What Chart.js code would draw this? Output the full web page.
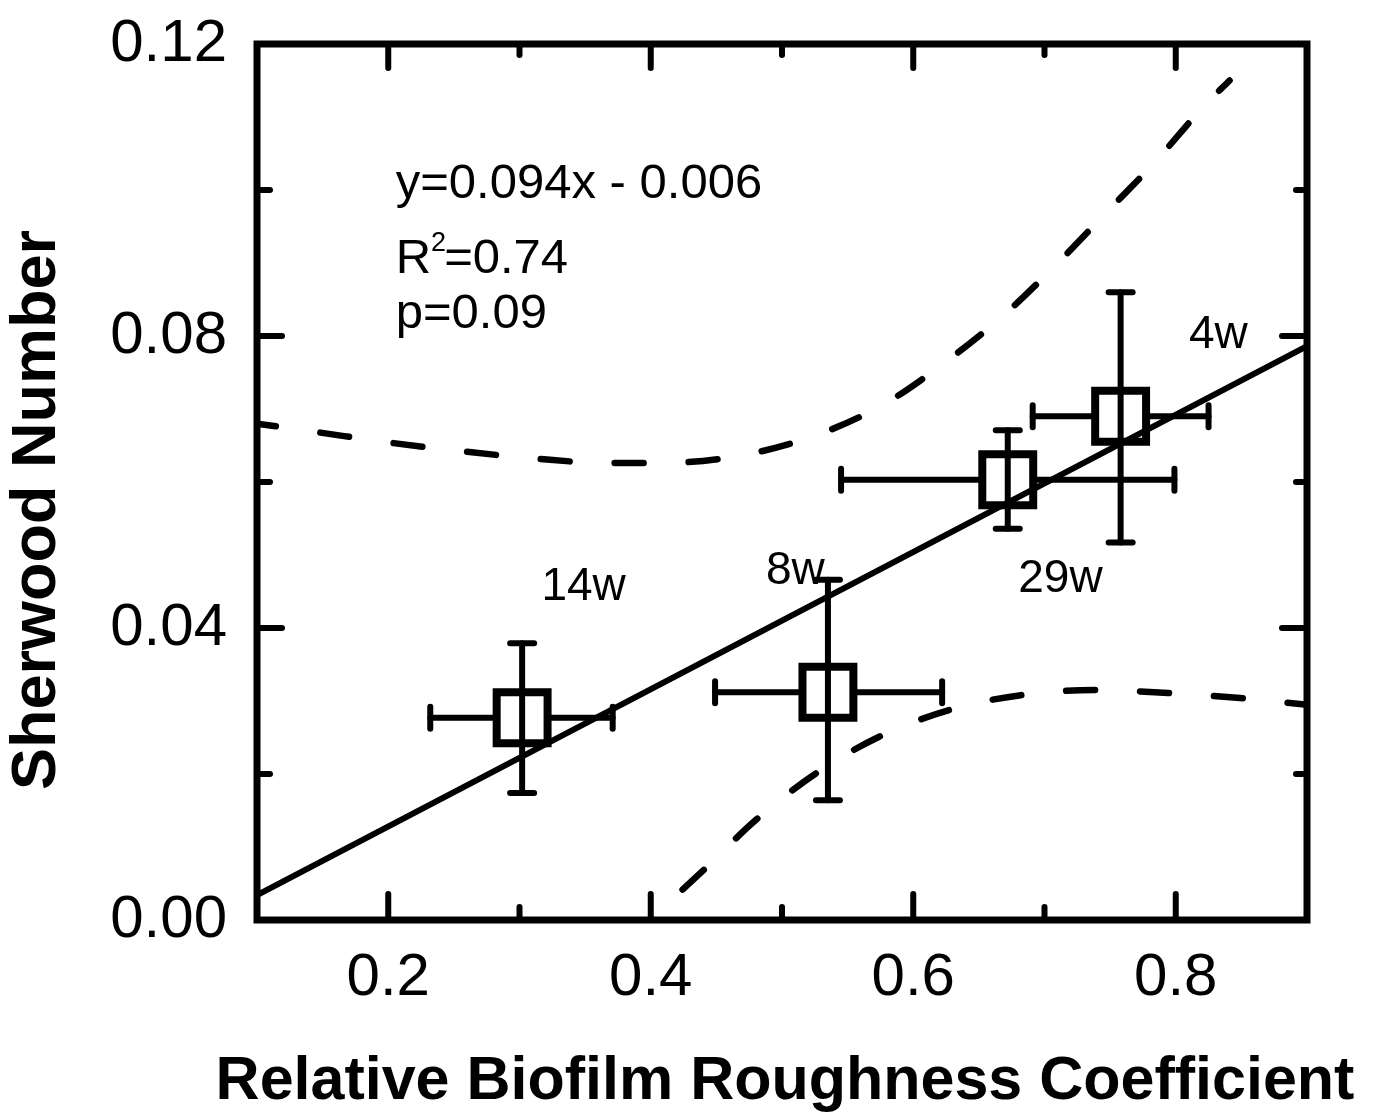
<!DOCTYPE html>
<html>
<head>
<meta charset="utf-8">
<script src="https://cdn.jsdelivr.net/npm/chart.js@4.4.1/dist/chart.umd.min.js"></script>
<style>
  html, body { margin: 0; padding: 0; background: #fff; }
  #wrap { width: 1378px; height: 1119px; }
</style>
</head>
<body>
<div id="wrap"><canvas id="sherwoodChart" width="1378" height="1119"></canvas></div>
<script>
// measured points (biofilm age labels)
const weeks = ["14w", "8w", "29w", "4w"];
const roughness = [0.302, 0.535, 0.672, 0.758];
const roughnessLow = [0.232, 0.449, 0.545, 0.691];
const roughnessHigh = [0.371, 0.622, 0.799, 0.825];
const sherwood = [0.0277, 0.0312, 0.0603, 0.0690];
const sherwoodLow = [0.0174, 0.0164, 0.0536, 0.0517];
const sherwoodHigh = [0.0379, 0.0466, 0.0671, 0.0860];

// regression line and 95% bands
const fitX = [0.1, 0.9];
const fitY = [0.0034, 0.0786];
const upperX = [0.100, 0.147, 0.201, 0.257, 0.313, 0.367, 0.423, 0.479, 0.532, 0.580, 0.625, 0.668, 0.708, 0.746, 0.785, 0.822, 0.841];
const upperY = [0.0680, 0.0668, 0.0654, 0.0642, 0.0632, 0.0626, 0.0627, 0.0640, 0.0668, 0.0709, 0.0765, 0.0827, 0.0896, 0.0967, 0.1040, 0.1116, 0.1150];
const lowerX = [0.399, 0.440, 0.480, 0.526, 0.574, 0.628, 0.682, 0.738, 0.794, 0.849, 0.900];
const lowerY = [0.0000, 0.0068, 0.0137, 0.0201, 0.0251, 0.0288, 0.0308, 0.0315, 0.0311, 0.0304, 0.0295];

// axis ticks
const xMajorTicks = [0.2, 0.4, 0.6, 0.8];
const xTickLabels = ["0.2", "0.4", "0.6", "0.8"];
const xMinorTicks = [0.3, 0.5, 0.7];
const yMajorTicks = [0, 0.04, 0.08, 0.12];
const yTickLabels = ["0.00", "0.04", "0.08", "0.12"];
const yMinorTicks = [0.02, 0.06, 0.10];

const FONT = "'Liberation Sans', Arial, sans-serif";
const xTitle = "Relative Biofilm Roughness Coefficient";
const yTitle = "Sherwood Number";

// text placed on the plot (anchor = left end of baseline, in data units)
const notes = [
  { text: "y=0.094x - 0.006", x: 0.2057, y: 0.0989, size: 49 },
  { text: "R", sup: "2", rest: "=0.74", x: 0.2057, y: 0.0886, size: 49 },
  { text: "p=0.09", x: 0.2057, y: 0.0811, size: 49 },
  { text: "14w", x: 0.3167, y: 0.0439, size: 46 },
  { text: "8w", x: 0.4878, y: 0.0460, size: 46 },
  { text: "29w", x: 0.6800, y: 0.0450, size: 46 },
  { text: "4w", x: 0.8100, y: 0.0784, size: 46 }
];

const toXY = (xs, ys) => xs.map((v, i) => ({ x: v, y: ys[i] }));

const errorBars = {
  id: "errorBars",
  afterDatasetsDraw(chart) {
    const { ctx, scales: { x, y } } = chart;
    ctx.save();
    ctx.strokeStyle = "#000";
    ctx.lineWidth = 6;
    ctx.lineCap = "round";
    const seg = (x1, y1, x2, y2) => { ctx.beginPath(); ctx.moveTo(x1, y1); ctx.lineTo(x2, y2); ctx.stroke(); };
    roughness.forEach((rx, i) => {
      const px = x.getPixelForValue(rx);
      const py = y.getPixelForValue(sherwood[i]);
      const yl = y.getPixelForValue(sherwoodLow[i]);
      const yh = y.getPixelForValue(sherwoodHigh[i]);
      const xl = x.getPixelForValue(roughnessLow[i]);
      const xh = x.getPixelForValue(roughnessHigh[i]);
      const half = 26;
      seg(px, yh, px, yl);
      seg(px - 12, yh, px + 12, yh);
      seg(px - 12, yl, px + 12, yl);
      seg(xl, py, px - half, py);
      seg(px + half, py, xh, py);
      seg(xl, py - 11, xl, py + 11);
      seg(xh, py - 11, xh, py + 11);
    });
    ctx.restore();
  }
};

const frame = {
  id: "frame",
  afterDraw(chart) {
    const { ctx, chartArea: a, scales: { x, y } } = chart;
    ctx.save();
    ctx.strokeStyle = "#000";
    ctx.lineWidth = 6;
    ctx.lineCap = "round";
    const seg = (x1, y1, x2, y2) => { ctx.beginPath(); ctx.moveTo(x1, y1); ctx.lineTo(x2, y2); ctx.stroke(); };
    xMajorTicks.forEach(v => {
      const p = x.getPixelForValue(v);
      seg(p, a.bottom, p, a.bottom - 26);
      seg(p, a.top, p, a.top + 24);
    });
    xMinorTicks.forEach(v => {
      const p = x.getPixelForValue(v);
      seg(p, a.bottom, p, a.bottom - 13);
      seg(p, a.top, p, a.top + 11);
    });
    yMajorTicks.forEach(v => {
      const p = y.getPixelForValue(v);
      seg(a.left, p, a.left + 25, p);
      seg(a.right, p, a.right - 25, p);
    });
    yMinorTicks.forEach(v => {
      const p = y.getPixelForValue(v);
      seg(a.left, p, a.left + 13, p);
      seg(a.right, p, a.right - 11, p);
    });
    ctx.lineWidth = 7;
    ctx.lineCap = "butt";
    ctx.lineJoin = "miter";
    ctx.strokeRect(a.left, a.top, a.right - a.left, a.bottom - a.top);

    // text notes
    ctx.fillStyle = "#000";
    ctx.textBaseline = "alphabetic";
    ctx.textAlign = "left";
    notes.forEach(n => {
      const px = x.getPixelForValue(n.x);
      const py = y.getPixelForValue(n.y);
      ctx.font = n.size + "px " + FONT;
      ctx.fillText(n.text, px, py);
      if (n.sup) {
        const w = ctx.measureText(n.text).width;
        ctx.font = "27px " + FONT;
        ctx.fillText(n.sup, px + w, py - 22);
        const sw = ctx.measureText(n.sup).width;
        ctx.font = n.size + "px " + FONT;
        ctx.fillText(n.rest, px + w + sw - 2, py);
      }
    });

    // axis titles
    ctx.font = "bold 61px " + FONT;
    ctx.textAlign = "center";
    ctx.textBaseline = "middle";
    ctx.fillText(xTitle, 785, 1082);
    ctx.save();
    ctx.translate(38, 510);
    ctx.rotate(-Math.PI / 2);
    ctx.font = "bold 63px " + FONT;
    ctx.fillText(yTitle, 0, 0);
    ctx.restore();
    ctx.restore();
  }
};

const ctx = document.getElementById("sherwoodChart").getContext("2d");

new Chart(ctx, {
  type: "scatter",
  data: {
    datasets: [
      {
        type: "line",
        data: toXY(fitX, fitY),
        borderColor: "#000",
        borderWidth: 6,
        pointRadius: 0,
        fill: false
      },
      {
        type: "line",
        data: toXY(upperX, upperY),
        borderColor: "#000",
        borderWidth: 6.5,
        borderDash: [29, 45],
        borderDashOffset: 10,
        borderCapStyle: "round",
        cubicInterpolationMode: "monotone",
        pointRadius: 0,
        fill: false
      },
      {
        type: "line",
        data: toXY(lowerX, lowerY),
        borderColor: "#000",
        borderWidth: 6.5,
        borderDash: [29, 45],
        borderDashOffset: 29,
        borderCapStyle: "round",
        cubicInterpolationMode: "monotone",
        pointRadius: 0,
        fill: false
      },
      {
        label: "Sherwood Number",
        data: toXY(roughness, sherwood),
        showLine: false,
        pointStyle: "rect",
        pointRadius: 36,
        pointBorderWidth: 8,
        pointBorderColor: "#000",
        pointBackgroundColor: "rgba(0,0,0,0)"
      }
    ]
  },
  options: {
    responsive: false,
    animation: false,
    events: [],
    layout: { padding: { top: 40, right: 71, left: 0, bottom: 0 } },
    plugins: {
      legend: { display: false },
      tooltip: { enabled: false }
    },
    scales: {
      x: {
        type: "linear",
        min: 0.1,
        max: 0.9,
        afterBuildTicks: scale => { scale.ticks = xMajorTicks.map(v => ({ value: v })); },
        afterFit: scale => { scale.height = 199; scale.paddingLeft = 0; scale.paddingRight = 0; },
        grid: { display: false, drawTicks: false },
        border: { display: false },
        ticks: {
          padding: 22,
          color: "#000",
          font: { family: FONT, size: 60 },
          maxRotation: 0,
          callback: (v, i) => xTickLabels[i]
        },
        title: { display: false }
      },
      y: {
        type: "linear",
        min: 0,
        max: 0.12,
        afterBuildTicks: scale => { scale.ticks = yMajorTicks.map(v => ({ value: v })); },
        afterFit: scale => { scale.width = 257; scale.paddingTop = 0; scale.paddingBottom = 0; },
        grid: { display: false, drawTicks: false },
        border: { display: false },
        ticks: {
          padding: 30,
          color: "#000",
          font: { family: FONT, size: 60 },
          callback: (v, i) => yTickLabels[i]
        },
        title: { display: false }
      }
    }
  },
  plugins: [errorBars, frame]
});
</script>
</body>
</html>
